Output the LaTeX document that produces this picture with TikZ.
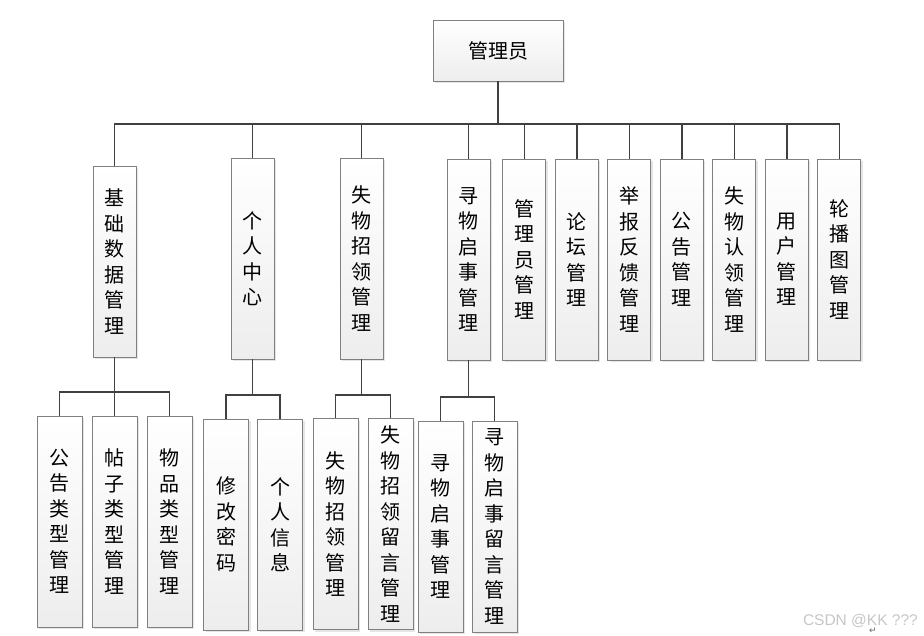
\documentclass[tikz,border=0pt]{standalone}
\usepackage{fontspec}
\newfontfamily\cjk{Noto Sans CJK SC}
\newfontfamily\wmfont{Liberation Sans}
\newfontfamily\symfont{DejaVu Sans}
\usetikzlibrary{positioning,shadows}

\begin{document}
\begin{tikzpicture}[x=1pt,y=-1pt,
    box/.style={draw=black!50, line width=0.9pt, top color=white, bottom color=gray!14,
      drop shadow={shadow xshift=2pt,shadow yshift=-2pt,fill=gray!40,opacity=.5},
      minimum width=43pt, minimum height=201pt, inner sep=0pt, align=center,
      font=\cjk\fontsize{20}{25.5}\selectfont},
    sub/.style={box, minimum width=45pt, minimum height=211pt},
    link/.style={draw=black!75, line width=1.4pt}]
  \useasboundingbox (0,0) rectangle (924,635);

  \node (root) [box, minimum width=130pt, minimum height=61pt] at (498,50.5) {管理员};

  \node (base) [box, minimum height=191pt] at (114.5,261.5) {基\\础\\数\\据\\管\\理};
  \node (self) [box] at (252.5,258.5) {个\\人\\中\\心};
  \node (lost) [box] at (361.5,258.5) {失\\物\\招\\领\\管\\理};
  \node (seek) [box] at (468.5,259.5) {寻\\物\\启\\事\\管\\理};
  \node (admin) [box, right=12pt of seek] {管\\理\\员\\管\\理};
  \node (forum) [box, right=8.6pt of admin] {论\\坛\\管\\理};
  \node (report) [box, right=8.6pt of forum] {举\\报\\反\\馈\\管\\理};
  \node (notice) [box, right=8.6pt of report] {公\\告\\管\\理};
  \node (claim) [box, right=8.6pt of notice] {失\\物\\认\\领\\管\\理};
  \node (user) [box, right=8.6pt of claim] {用\\户\\管\\理};
  \node (banner) [box, right=8.6pt of user] {轮\\播\\图\\管\\理};

  \node (t1) [sub] at (59.5,521.5) {公\\告\\类\\型\\管\\理};
  \node (t2) [sub, right=9.1pt of t1] {帖\\子\\类\\型\\管\\理};
  \node (t3) [sub, right=9.1pt of t2] {物\\品\\类\\型\\管\\理};
  \node (pw) [sub] at (226,524.5) {修\\改\\密\\码};
  \node (info) [sub, right=8.1pt of pw] {个\\人\\信\\息};
  \node (lost1) [sub] at (335.5,524) {失\\物\\招\\领\\管\\理};
  \node (lost2) [sub, right=9.1pt of lost1] {失\\物\\招\\领\\留\\言\\管\\理};
  \node (seek1) [sub] at (440.5,526.5) {寻\\物\\启\\事\\管\\理};
  \node (seek2) [sub, right=8.1pt of seek1] {寻\\物\\启\\事\\留\\言\\管\\理};

  % main bus
  \coordinate (hub) at (root.south |- 0,124);
  \draw[link] (root.south) -- (hub);
  \foreach \n in {base,self,lost,seek,admin,forum,report,notice,claim,user,banner}
    \draw[link] (hub) -| (\n.north);

  % second level
  \coordinate (jb) at (base.south |- 0,392);
  \draw[link] (base.south) -- (jb);
  \foreach \n in {t1,t2,t3} \draw[link] (jb) -| (\n.north);
  \coordinate (js) at (self.south |- 0,395);
  \draw[link] (self.south) -- (js);
  \foreach \n in {pw,info} \draw[link] (js) -| (\n.north);
  \coordinate (jl) at (lost.south |- 0,395);
  \draw[link] (lost.south) -- (jl);
  \foreach \n in {lost1,lost2} \draw[link] (jl) -| (\n.north);
  \coordinate (jk) at (seek.south |- 0,397);
  \draw[link] (seek.south) -- (jk);
  \foreach \n in {seek1,seek2} \draw[link] (jk) -| (\n.north);

  \node (mark) [font=\wmfont\fontsize{15.5}{16}\selectfont, text=gray!45, inner sep=0pt, anchor=base east] at (918,625) {CSDN @KK ???};
  \node (ret) [font=\symfont\fontsize{9}{10}\selectfont, text=black!60, inner sep=0pt, anchor=north] at (873,627.5) {↵};
\end{tikzpicture}
\end{document}
